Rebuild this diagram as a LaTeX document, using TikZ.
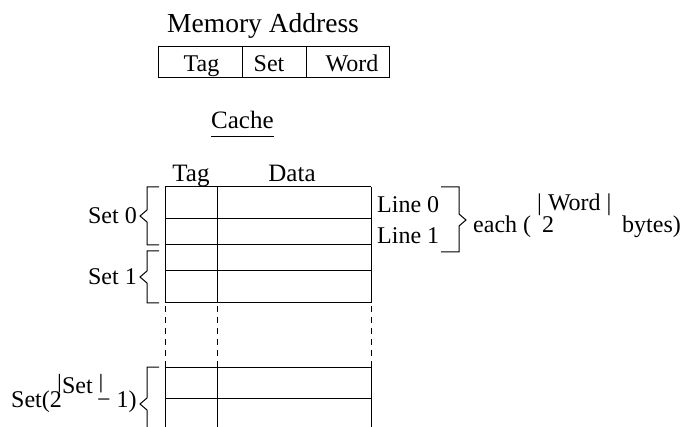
\documentclass[tikz,border=0pt]{standalone}
\usepackage{fontspec}
\setmainfont{Liberation Serif}
% bar glyphs of the set-size exponent, lifted onto its baseline
\newcommand\upbar{\raisebox{0.2em}{\scalebox{1}[0.85]{|}}}
\begin{document}
\begin{tikzpicture}[x=1pt,y=-1pt,
  rule/.style={line width=1pt, line join=miter},
  gap/.style={line width=1pt, dash pattern=on 6pt off 5pt, dash phase=-3pt},
  lbl/.style={inner sep=0pt, font=\fontsize{24}{28}\selectfont},
  head/.style={inner sep=0pt, font=\fontsize{25}{30}\selectfont},
  title/.style={inner sep=0pt, font=\fontsize{27.5}{32}\selectfont}]
\useasboundingbox (0,0) rectangle (685,427);

% memory address fields
\node[title, anchor=base west] (addrtitle) at (167,33) {Memory Address};
\draw[rule] (158,47) rectangle (389,78);
\draw[rule] (242,47) -- (242,78);
\draw[rule] (306,47) -- (306,78);
\node[lbl, anchor=base] (ftag)  at (201.5,72) {Tag};
\node[lbl, anchor=base] (fset)  at (269,72) {Set};
\node[lbl, anchor=base] (fword) at (352,72) {Word};

% cache heading
\node[head, anchor=base west] (cache) at (211,129) {Cache};
\draw[line width=0.9pt] (cache.base west |- 0,136) -- (cache.base east |- 0,136);

% column headings
\node[head, anchor=base] (ctag)  at (191,182) {Tag};
\node[head, anchor=base] (cdata) at (292,182) {Data};

% cache lines
\foreach \y in {187,219,245,271,303,367,398}
  \draw[rule] (165,\y) -- (371,\y);
\foreach \x in {165,217,371} {
  \draw[rule] (\x,187) -- (\x,303);
  \draw[gap]  (\x,303) -- (\x,367);
  \draw[rule] (\x,367) -- (\x,428);
}

% set braces
\draw[rule] (159,187) -- (147,187) -- (147,210) -- (140,216) -- (147,222) -- (147,245) -- (159,245);
\draw[rule] (159,251) -- (147,251) -- (147,271) -- (140,277) -- (147,283) -- (147,303) -- (159,303);
\draw[rule] (159,367) -- (147,367) -- (147,398) -- (140,404) -- (147,410) -- (147,430);

\node[lbl, anchor=base east] (set0) at (137,224) {Set 0};
\node[lbl, anchor=base east] (set1) at (137,285) {Set 1};
\node[lbl, anchor=base west] (setn)  at (11,407) {Set(2};
\node[lbl, anchor=base west] (setnx) at (57,393) {\upbar Set \upbar};
\node[lbl, anchor=base west] (setnm) at (97,407) {− 1)};

% line brace
\node[lbl, anchor=base west] (line0) at (377,213) {Line 0};
\node[lbl, anchor=base west] (line1) at (377,244) {Line 1};
\draw[rule] (441,187) -- (459,187) -- (459,214) -- (466,220) -- (459,226) -- (459,252) -- (441,252);

\node[lbl, anchor=base west] (each)  at (473,233) {each (};
\node[lbl, anchor=base west] (two)   at (542,233) {2};
\node[lbl, anchor=base west] (wexp)  at (537,211) {| Word |};
\node[lbl, anchor=base west] (bytes) at (622,233) {bytes)};
\end{tikzpicture}
\end{document}
